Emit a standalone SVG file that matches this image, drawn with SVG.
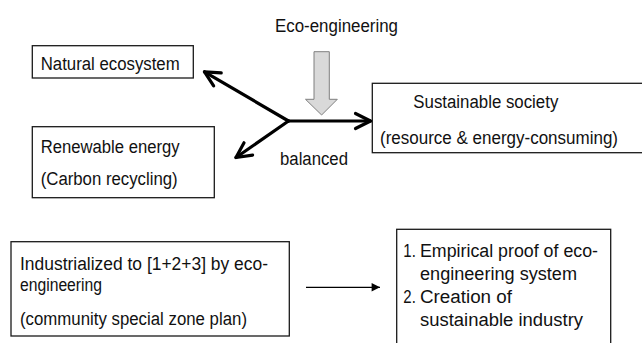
<svg xmlns="http://www.w3.org/2000/svg" width="642" height="343" viewBox="0 0 642 343">
  <style>
    .box { fill: #ffffff; stroke: #1a1a1a; stroke-width: 1.3; }
    .lbl { font-family: "Liberation Sans", Arial, sans-serif; font-size: 18px; fill: #111111; }
    .thick { fill: none; stroke: #000000; stroke-width: 3.2; stroke-linecap: round; }
    .thin { fill: none; stroke: #000000; stroke-width: 1.2; }
  </style>
  <defs>
    <marker id="chevron" markerUnits="userSpaceOnUse" markerWidth="24" markerHeight="24" viewBox="-20 -12 24 24" refX="0" refY="0" orient="auto">
      <path d="M-15,-7.5 L0,0 L-15,7.5" fill="none" stroke="#000000" stroke-width="3.2" stroke-linecap="round" stroke-linejoin="round"/>
    </marker>
    <marker id="tri" markerUnits="userSpaceOnUse" markerWidth="12" markerHeight="12" viewBox="-8 -5 10 10" refX="0" refY="0" orient="auto">
      <path d="M-7,-3.5 L0,0 L-7,3.5 Z" fill="#000000"/>
    </marker>
  </defs>

  <rect width="642" height="343" fill="#ffffff"/>

  <!-- heading over the block arrow -->
  <g id="eco-engineering">
    <text class="lbl" x="275" y="32" textLength="123" lengthAdjust="spacingAndGlyphs">Eco-engineering</text>
    <polygon points="314,51.7 329.3,51.7 329.3,99.3 337.3,99.3 321.6,115 305.5,99.3 314,99.3" fill="#d9d9d9" stroke="#7f7f7f" stroke-width="1"/>
  </g>

  <g id="natural-ecosystem">
    <rect class="box" x="32.3" y="45.7" width="161" height="32.3"/>
    <text class="lbl" x="40.7" y="70" textLength="139" lengthAdjust="spacingAndGlyphs">Natural ecosystem</text>
  </g>

  <g id="renewable-energy">
    <rect class="box" x="32.3" y="126.7" width="182" height="71"/>
    <text class="lbl" x="40.7" y="153" textLength="139" lengthAdjust="spacingAndGlyphs">Renewable energy</text>
    <text class="lbl" x="40.7" y="184.5" textLength="137" lengthAdjust="spacingAndGlyphs">(Carbon recycling)</text>
  </g>

  <g id="sustainable-society">
    <rect class="box" x="372.3" y="83.3" width="275" height="69.4"/>
    <text class="lbl" x="413.3" y="107.5" textLength="145" lengthAdjust="spacingAndGlyphs">Sustainable society</text>
    <text class="lbl" x="380" y="144" textLength="238" lengthAdjust="spacingAndGlyphs">(resource &amp; energy-consuming)</text>
  </g>

  <g id="balanced">
    <text class="lbl" x="280" y="165" textLength="68" lengthAdjust="spacingAndGlyphs">balanced</text>
  </g>

  <g id="industrialized">
    <rect class="box" x="11" y="241.7" width="278.3" height="94.3"/>
    <text class="lbl" x="20" y="270" textLength="248" lengthAdjust="spacingAndGlyphs">Industrialized to [1+2+3] by eco-</text>
    <text class="lbl" x="20" y="291" textLength="82" lengthAdjust="spacingAndGlyphs">engineering</text>
    <text class="lbl" x="20" y="324.5" textLength="227" lengthAdjust="spacingAndGlyphs">(community special zone plan)</text>
  </g>

  <g id="outcomes">
    <rect class="box" x="396.7" y="229.3" width="214" height="130"/>
    <text class="lbl" x="403.3" y="256.5" textLength="12.5" lengthAdjust="spacingAndGlyphs">1.</text>
    <text class="lbl" x="420" y="256.5" textLength="178" lengthAdjust="spacingAndGlyphs">Empirical proof of eco-</text>
    <text class="lbl" x="420" y="279.5" textLength="157" lengthAdjust="spacingAndGlyphs">engineering system</text>
    <text class="lbl" x="403.3" y="302.5" textLength="12.5" lengthAdjust="spacingAndGlyphs">2.</text>
    <text class="lbl" x="420" y="302.5" textLength="92" lengthAdjust="spacingAndGlyphs">Creation of</text>
    <text class="lbl" x="420" y="325.5" textLength="163" lengthAdjust="spacingAndGlyphs">sustainable industry</text>
  </g>

  <!-- connectors -->
  <g id="connectors">
    <line class="thick" x1="288.5" y1="121" x2="204.5" y2="71.8" marker-end="url(#chevron)"/>
    <line class="thick" x1="288.5" y1="121" x2="236" y2="157.5" marker-end="url(#chevron)"/>
    <line class="thick" x1="288.5" y1="121" x2="370.5" y2="121" marker-end="url(#chevron)"/>
    <line class="thin" x1="306" y1="287.3" x2="380" y2="287.3" marker-end="url(#tri)"/>
  </g>
</svg>
